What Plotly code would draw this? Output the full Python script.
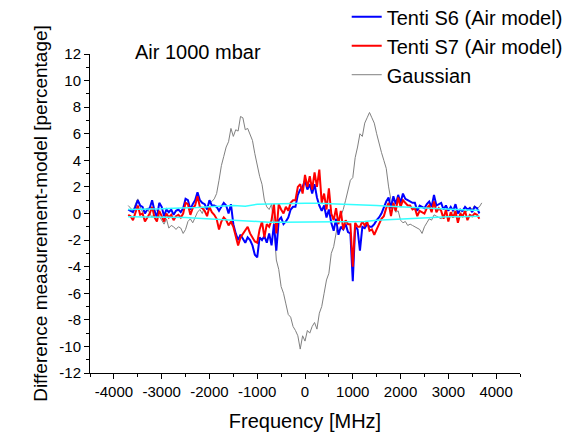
import numpy as np
import plotly.graph_objects as go

# Frequency grids [MHz]
freq_fit = np.arange(-3700, 3651, 50)      # 148 points for Tenti S6 / S7
freq_gauss = np.arange(-3700, 3701, 50)    # 149 points for Gaussian
freq_band = [-3700, -3500, -3250, -3000, -2750, -2500, -2250, -2000, -1750, -1500,
             -1250, -1000, -750, -500, -250, 0, 250, 500, 750, 1000, 1250, 1500,
             1750, 2000, 2250, 2500, 2750, 3000, 3250, 3500, 3650]

tenti_s6 = [0.3, 0.2, 0.1, 0.5, 1.0, 0.6, 0.5, 0.0, 0.3, 0.4,
            1.0, 0.2, -0.3, 0.8, 0.5, -0.2, 0.3, 0.1, 0.3, -0.1,
            0.2, 0.3, 0.1, 0.4, 1.1, 1.0, 0.3, 0.7, 1.0, 1.6,
            1.0, 0.8, 0.7, 0.3, 1.0, 0.6, 0.6, 0.5, 0.2, 0.5,
            0.8, 0.6, 0.0, 0.7, -0.8, -1.5, -2.0, -1.6, -1.9, -2.2,
            -1.8, -2.0, -2.4, -3.1, -3.3, -1.8, -2.0, -1.7, -2.2, -1.5,
            -2.4, -0.8, -2.8, -0.5, -0.3, -0.8, -0.6, -0.3, 0.3, 0.5,
            0.5, 1.4, 1.8, 2.0, 2.5, 1.8, 2.2, 1.5, 2.2, 1.2,
            0.6, 0.2, 0.6, -0.3, 0.3, -0.7, -1.3, -0.4, -1.6, -1.0,
            -1.2, -0.8, -1.4, -1.5, -5.1, -1.0, -1.2, -2.8, -1.0, -1.1,
            -0.8, -1.0, -1.0, -0.8, -0.5, -0.3, 0.0, 0.5, 0.9, 1.2,
            0.4, 1.3, 0.7, 1.4, 0.8, 1.5, 1.1, 1.0, 0.9, 0.8,
            0.8, 0.2, 0.6, 0.5, 0.4, 0.7, 0.9, 0.5, 1.4, 0.6,
            0.7, 0.8, 0.3, 0.6, 0.2, 0.5, 0.2, 0.7, 0.0, 0.3,
            0.2, 0.5, 0.3, 0.4, 0.1, 0.5, 0.4, 0.0]

tenti_s7 = [-0.1, -0.2, -0.5, 0.0, 0.6, -0.1, 0.0, -0.6, -0.3, 0.0,
            0.5, -0.3, -0.6, 0.2, -0.2, -0.6, 0.0, -0.3, -0.1, -0.5,
            -0.2, -0.1, -0.3, 0.0, 0.8, 0.7, -0.1, 0.4, 0.6, 1.3,
            0.5, 0.4, 0.2, -0.2, 0.5, 0.1, -0.1, -0.4, -1.2, -0.6,
            -0.3, -0.5, -0.9, -0.6, -1.0, -1.8, -2.4, -1.8, -1.5, -1.3,
            -1.0, -1.5, -1.8, -2.1, -2.2, -1.2, -0.6, -1.8, -0.8, -1.0,
            -0.5, 0.7, -1.5, 0.7, 0.3, 0.0, 0.5, 0.2, 0.8, 1.0,
            1.0, 2.0, 2.2, 1.5, 2.9, 2.0, 2.8, 1.8, 3.1, 2.0,
            3.3, 0.8, 1.5, 0.3, 1.9, 0.0, -0.5, 0.4, -0.8, 0.2,
            -1.2, -0.5, -0.8, -0.8, -4.0, -0.7, -1.0, -1.0, -0.6, -0.9,
            -0.6, -1.3, -1.2, -1.6, -1.2, -0.8, -0.4, -0.2, 0.4, 0.8,
            -0.2, 0.8, 0.2, 1.2, 0.5, 1.0, 0.8, 0.6, 0.6, 0.3,
            0.4, -0.2, 0.2, 0.1, 0.0, 0.4, 0.6, 0.1, 0.9, 0.1,
            0.4, 0.2, -0.4, 0.3, -0.6, 0.1, -0.3, 0.2, -0.7, 0.0,
            -0.2, 0.2, -0.5, -0.1, -0.2, 0.0, -0.1, -0.4]

gaussian = [0.6, 0.4, 0.2, 0.7, 1.1, 0.5, 0.1, 0.3, 0.4, 0.0,
            -0.3, 0.1, 0.3, -0.2, -0.5, -0.8, -0.4, -1.1, -0.9, -1.0,
            -1.2, -1.0, -1.1, -1.5, -1.2, -0.6, -0.4, -0.7, -0.3, 0.1,
            0.3, 0.0, 0.5, 0.4, 0.8, 0.9, 1.1, 1.5, 2.5, 3.6,
            4.3, 5.0, 5.4, 6.4, 5.8, 6.3, 6.2, 7.3, 7.2, 6.3,
            6.4, 6.0, 5.5, 4.5, 3.6, 2.8, 2.2, 1.0, 0.5, 0.3,
            0.7, -1.0, -3.5, -4.2, -5.5, -6.0, -6.8, -7.6, -7.8, -8.5,
            -8.8, -9.2, -10.2, -9.2, -9.6, -8.8, -9.0, -8.5, -8.2, -8.7,
            -7.5, -7.0, -6.0, -5.0, -4.5, -3.0, -2.5, -1.5, -0.5, -0.2,
            0.3, 1.0, 1.8, 2.5, 2.7, 4.2, 5.0, 6.0, 5.8, 6.8,
            7.2, 7.6, 7.2, 6.8, 6.0, 5.2, 4.6, 4.0, 3.4, 2.0,
            1.0, 0.5, 0.1, 0.2, -0.5, -0.7, -0.6, -0.9, -0.8, -0.9,
            -1.0, -1.1, -1.2, -1.5, -1.0, -0.7, -0.4, -0.5, -0.1, -0.2,
            -0.3, -0.4, -0.1, 0.0, -0.3, -0.2, 0.3, -0.2, 0.2, 0.0,
            0.3, 0.1, 0.2, 0.5, 0.3, 0.6, 0.4, 0.5, 0.8]

band_upper = [0.3, 0.3, 0.35, 0.35, 0.4, 0.4, 0.45, 0.5, 0.55, 0.6,
              0.55, 0.7, 0.72, 0.75, 0.75, 0.78, 0.78, 0.75, 0.72, 0.7,
              0.62, 0.6, 0.55, 0.5, 0.45, 0.4, 0.35, 0.3, 0.3, 0.25, 0.25]
band_lower = [-0.25, -0.25, -0.28, -0.3, -0.3, -0.3, -0.35, -0.4, -0.5, -0.55,
              -0.6, -0.65, -0.65, -0.65, -0.65, -0.65, -0.65, -0.65, -0.65, -0.65,
              -0.6, -0.5, -0.45, -0.4, -0.35, -0.3, -0.28, -0.25, -0.25, -0.22, -0.2]

x_tickvals = [-4000, -3000, -2000, -1000, 0, 1000, 2000, 3000, 4000]
x_ticktext = ["-4000", "-3000", "-2000", "-1000", "0", "1000", "2000", "3000", "4000"]
y_tickvals = [-12, -10, -8, -6, -4, -2, 0, 2, 4, 6, 8, 10, 12]
y_ticktext = ["-12", "-10", "-8", "-6", "-4", "-2", "0", "2", "4", "6", "8", "10", "12"]

FONT = "Arial, Liberation Sans, sans-serif"

fig = go.Figure()
fig.add_trace(go.Scatter(x=freq_gauss, y=gaussian, mode="lines", name="Gaussian",
                         line=dict(color="#808080", width=1), legendrank=3))
fig.add_trace(go.Scatter(x=freq_fit, y=tenti_s6, mode="lines", name="Tenti S6 (Air model)",
                         line=dict(color="#0000FF", width=2), legendrank=1))
fig.add_trace(go.Scatter(x=freq_fit, y=tenti_s7, mode="lines", name="Tenti S7 (Air model)",
                         line=dict(color="#FF0000", width=2), legendrank=2))
fig.add_trace(go.Scatter(x=freq_band, y=band_upper, mode="lines", showlegend=False,
                         line=dict(color="#33FFFF", width=1.5)))
fig.add_trace(go.Scatter(x=freq_band, y=band_lower, mode="lines", showlegend=False,
                         line=dict(color="#33FFFF", width=1.5)))

fig.update_layout(
    width=579, height=432,
    margin=dict(l=90, r=59, t=54, b=59, autoexpand=False),
    paper_bgcolor="white", plot_bgcolor="white",
    font=dict(family=FONT, color="black", size=15),
    legend=dict(x=0.597, y=1.178, xanchor="left", yanchor="top",
                traceorder="normal", font=dict(size=20, family=FONT),
                bgcolor="rgba(0,0,0,0)"),
    annotations=[dict(text="Air 1000 mbar", x=0.1, y=1.005, xref="paper", yref="paper",
                      xanchor="left", yanchor="middle", showarrow=False,
                      font=dict(size=20, family=FONT))],
)

fig.update_xaxes(range=[-4500, 4500], tickvals=x_tickvals, ticktext=x_ticktext,
                 showline=True, linecolor="black", automargin=False,
                 linewidth=1, ticks="outside", ticklen=5, tickwidth=1, tickcolor="black",
                 showgrid=False, zeroline=False, tickfont=dict(size=15),
                 minor=dict(dtick=500, tick0=0, ticks="outside", ticklen=3, tickcolor="black", showgrid=False),
                 title=dict(text="Frequency [MHz]", font=dict(size=20), standoff=16))
fig.update_yaxes(range=[-12, 12], tickvals=y_tickvals, ticktext=y_ticktext,
                 showline=True, linecolor="black", automargin=False,
                 linewidth=1, ticks="outside", ticklen=5, tickwidth=1, tickcolor="black",
                 showgrid=False, zeroline=False, tickfont=dict(size=15),
                 minor=dict(dtick=1, tick0=0, ticks="outside", ticklen=3, tickcolor="black", showgrid=False),
                 title=dict(text="Difference measurement-model [percentage]", font=dict(size=19), standoff=6))

fig.write_html("out.html")
